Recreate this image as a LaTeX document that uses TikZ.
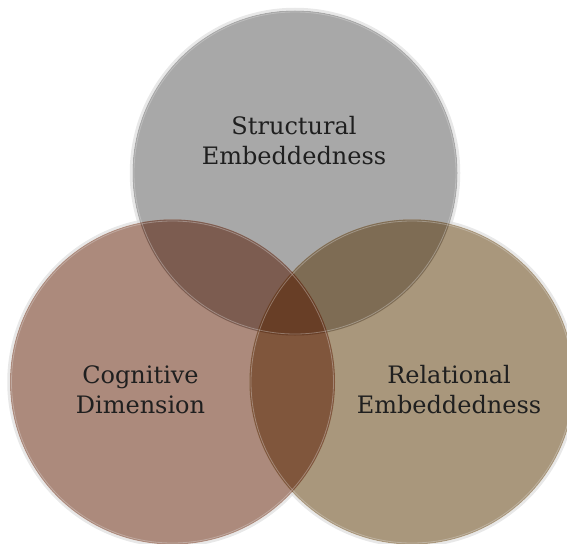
\documentclass[tikz,border=0pt]{standalone}
\usepackage{fontspec}
\setmainfont{DejaVu Serif}
\begin{document}
\begin{tikzpicture}[x=1pt,y=-1pt,
  lbl/.style={align=center,font=\fontsize{24}{30}\selectfont,text=black!88,inner sep=0pt},
  rim/.style={draw=white!70!gray,line width=2.5pt,opacity=0.6}]
\useasboundingbox (0,0) rectangle (567,543);
\def\rr{164}
\coordinate (T) at (295,173);
\coordinate (L) at (172.5,382);
\coordinate (R) at (412,382);
\definecolor{cT}{RGB}{168,168,168}
\definecolor{cL}{RGB}{172,138,124}
\definecolor{cR}{RGB}{169,151,124}
\definecolor{cTL}{RGB}{124,92,80}
\definecolor{cTR}{RGB}{126,108,84}
\definecolor{cLR}{RGB}{128,86,60}
\definecolor{cTLR}{RGB}{104,62,38}
% rims (outer bevel)
\draw[rim] (T) circle (\rr);
\draw[rim] (L) circle (\rr);
\draw[rim] (R) circle (\rr);
% base fills
\fill[cT] (T) circle (\rr-1.5);
\fill[cL] (L) circle (\rr-1.5);
\fill[cR] (R) circle (\rr-1.5);
\begin{scope}
  \clip (T) circle (\rr-1.5);
  \fill[cTL] (L) circle (\rr-1.5);
  \fill[cTR] (R) circle (\rr-1.5);
\end{scope}
\begin{scope}
  \clip (L) circle (\rr-1.5);
  \fill[cLR] (R) circle (\rr-1.5);
  \clip (R) circle (\rr-1.5);
  \fill[cTLR] (T) circle (\rr-1.5);
\end{scope}
% inner faint rims visible through overlaps
\draw[white!80!gray,line width=0.8pt,opacity=0.35] (T) circle (\rr-3);
\draw[white!80!gray,line width=0.8pt,opacity=0.35] (L) circle (\rr-3);
\draw[white!80!gray,line width=0.8pt,opacity=0.35] (R) circle (\rr-3);
% labels
\node[lbl] (st) at (294,141) {Structural\\Embeddedness};
\node[lbl] (cd) at (140.5,389.5) {Cognitive\\Dimension};
\node[lbl] (re) at (449,389.5) {Relational\\Embeddedness};
\end{tikzpicture}
\end{document}
